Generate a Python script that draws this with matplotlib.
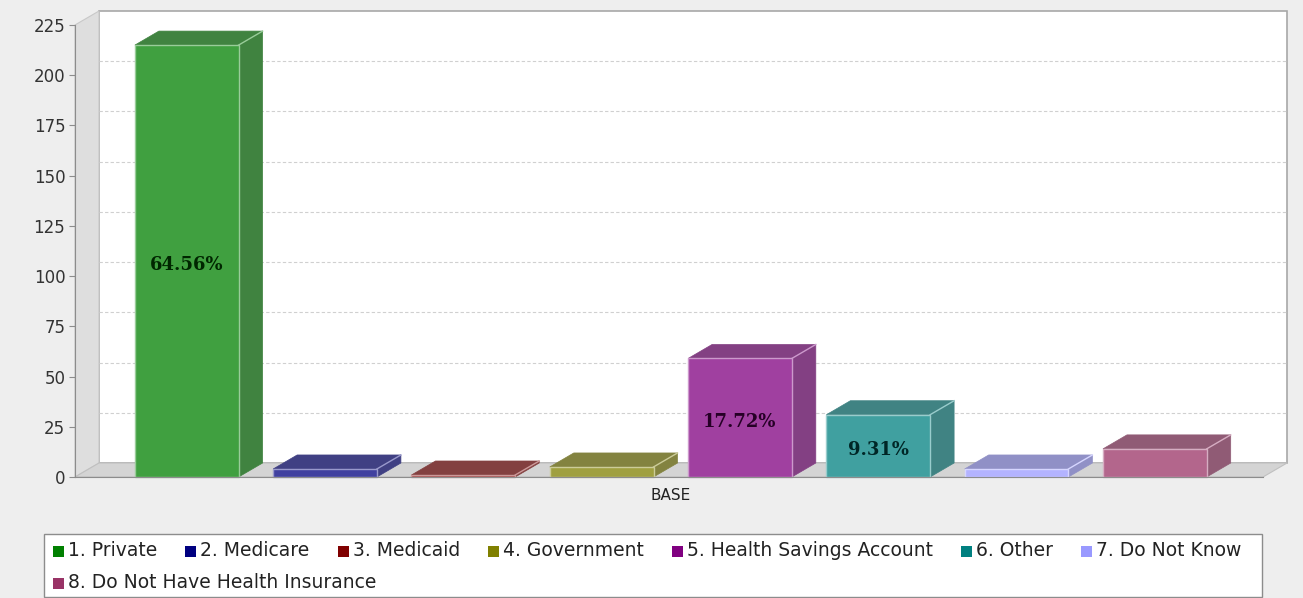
import numpy as np
import matplotlib
matplotlib.use('Agg')
import matplotlib.pyplot as plt
import matplotlib.patches as patches
from matplotlib.colors import to_rgb

categories = ['1. Private', '2. Medicare', '3. Medicaid', '4. Government',
              '5. Health Savings Account', '6. Other', '7. Do Not Know',
              '8. Do Not Have Health Insurance']
counts = [215, 4, 1, 5, 59, 31, 4, 14]
series_colors = ['#008000', '#000080', '#800000', '#808000',
                 '#800080', '#008080', '#9999ff', '#993366']
y_ticks = [0, 25, 50, 75, 100, 125, 150, 175, 200, 225]
group_label = 'BASE'

W, H = 1303, 598


def fx(px):
    return px / W


def fy(py):
    return 1 - py / H


def mix(c, other, t):
    c = to_rgb(c)
    other = to_rgb(other)
    return tuple(a * (1 - t) + b * t for a, b in zip(c, other))


fig = plt.figure(figsize=(W / 100, H / 100), dpi=100, facecolor='#eeeeee')

# front plane of the plot area (pixels)
left, right, bottom, top = 75, 1263, 477, 25
ax = fig.add_axes([fx(left), fy(bottom), (right - left) / W, (bottom - top) / H])
xmin, xmax = -0.808, 7.782
ymax = 225
ax.set_xlim(xmin, xmax)
ax.set_ylim(0, ymax)
ax.patch.set_visible(False)

# depth of the 3d effect: 24px right, 14px up
DX = 24 * (xmax - xmin) / (right - left)
DY = 14 * ymax / (bottom - top)

# walls
back = patches.Rectangle((xmin + DX, DY), xmax - xmin, ymax, facecolor='white',
                         edgecolor='#a8a8a8', lw=1.2, clip_on=False, zorder=0)
ax.add_patch(back)
lwall = patches.Polygon([(xmin, 0), (xmin, ymax), (xmin + DX, ymax + DY), (xmin + DX, DY)],
                        closed=True, facecolor='#dedede', edgecolor='#c8c8c8', lw=0.8,
                        clip_on=False, zorder=0.5)
ax.add_patch(lwall)
floor = patches.Polygon([(xmin, 0), (xmax, 0), (xmax + DX, DY), (xmin + DX, DY)],
                        closed=True, facecolor='#d4d4d4', edgecolor='#c0c0c0', lw=0.8,
                        clip_on=False, zorder=0.5)
ax.add_patch(floor)

# gridlines on the back wall
for v in y_ticks[1:-1]:
    ax.plot([xmin + DX, xmax + DX], [v + DY, v + DY], color='#d0d0d0', lw=0.8,
            ls=(0, (3, 2)), clip_on=False, zorder=0.6)

# bars
total = sum(counts)
bw = 0.75
for i, (n, c) in enumerate(zip(counts, series_colors)):
    x0, x1 = i - bw / 2, i + bw / 2
    front = mix(c, 'white', 0.25)
    dark = mix(tuple(0.7 * v for v in to_rgb(c)), 'white', 0.25)
    edge = mix(c, 'white', 0.6)
    side = patches.Polygon([(x1, 0), (x1 + DX, DY), (x1 + DX, n + DY), (x1, n)],
                           closed=True, facecolor=dark, edgecolor=dark, lw=0.5,
                           clip_on=False, zorder=2)
    topf = patches.Polygon([(x0, n), (x0 + DX, n + DY), (x1 + DX, n + DY), (x1, n)],
                           closed=True, facecolor=dark, edgecolor=dark, lw=0.5,
                           clip_on=False, zorder=2)
    ax.add_patch(side)
    ax.add_patch(topf)
    ax.plot([x1, x1 + DX], [n, n + DY], color=edge, lw=1, zorder=3, clip_on=False)
    ax.add_patch(patches.Rectangle((x0, 0), bw, n, facecolor=front, edgecolor=edge,
                                   lw=1, zorder=3, clip_on=False))
    share = n / total
    if share >= 0.05:
        ax.text(i, n / 2 - 2, '{:.2f}%'.format(share * 100), ha='center', va='center',
                fontsize=13, fontweight='bold', family='DejaVu Serif',
                color=mix(c, 'black', 0.7), zorder=4)

# axes
for s in ['top', 'right']:
    ax.spines[s].set_visible(False)
for s in ['left', 'bottom']:
    ax.spines[s].set_color('#8c8c8c')
    ax.spines[s].set_zorder(5)
ax.set_yticks(y_ticks)
ax.tick_params(axis='y', length=4, color='#8c8c8c', labelsize=12,
               labelcolor='#333333', pad=3)
ax.set_xticks([(len(counts) - 1) / 2])
ax.set_xticklabels([group_label])
ax.tick_params(axis='x', length=0, labelsize=11, labelcolor='#222222', pad=8)

# legend laid out as a flowing box
fig.patches.append(patches.Rectangle((fx(44), fy(597)), (1262 - 44) / W, (597 - 534) / H,
                                     transform=fig.transFigure, facecolor='white',
                                     edgecolor='#8c8c8c', lw=1, figure=fig))
renderer = fig.canvas.get_renderer()
x, row_y = 53, 551
for name, c in zip(categories, series_colors):
    t = fig.text(fx(x + 15), fy(row_y), name, fontsize=13.5, color='#222222',
                 va='center', ha='left')
    tw = t.get_window_extent(renderer).width
    if x + 15 + tw > 1258:
        x, row_y = 53, row_y + 32
        t.set_position((fx(x + 15), fy(row_y)))
    fig.patches.append(patches.Rectangle((fx(x), fy(row_y + 5.5)), 11 / W, 11 / H,
                                         transform=fig.transFigure, facecolor=c,
                                         edgecolor='none', figure=fig))
    x += 15 + tw + 28

fig.savefig('out.png', dpi=100, facecolor=fig.get_facecolor())
